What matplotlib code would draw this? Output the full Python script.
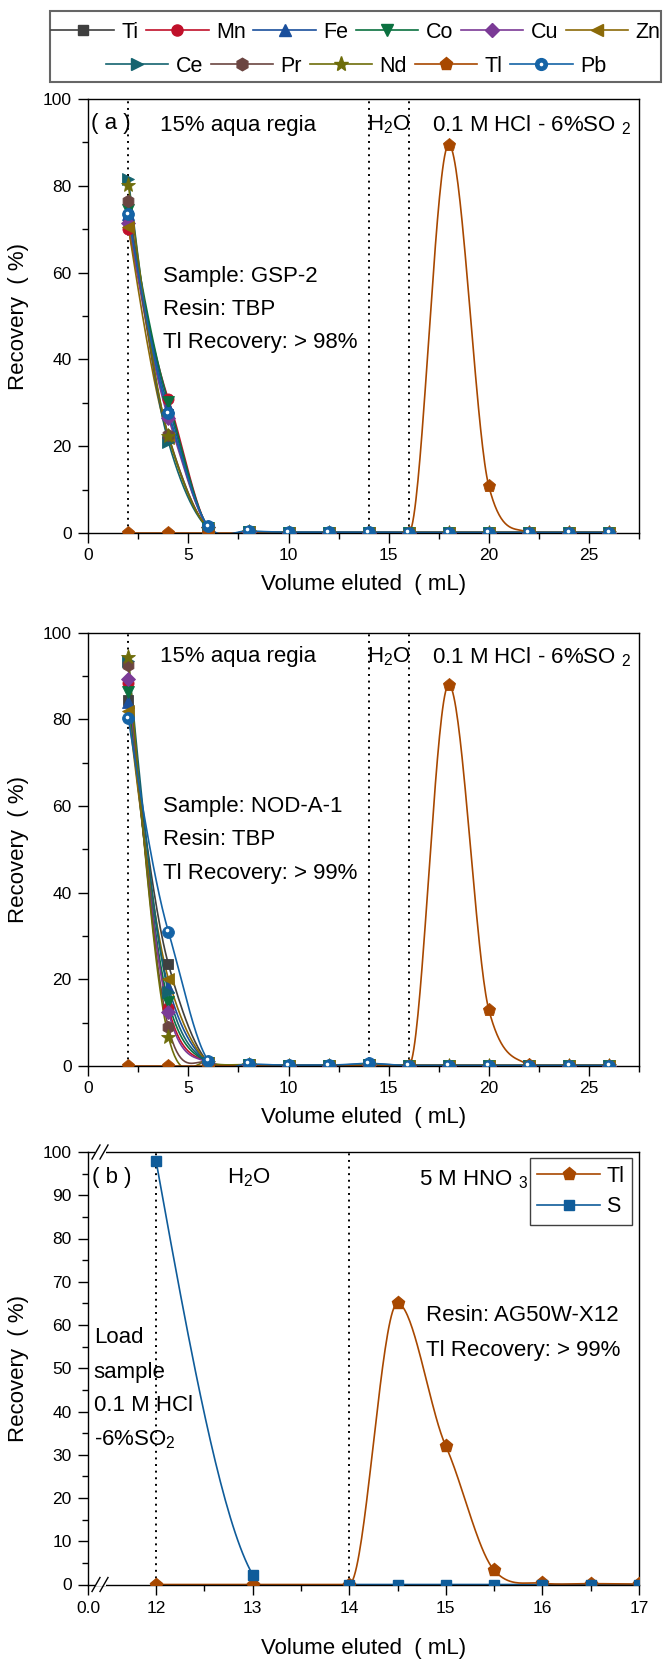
import numpy as np
import matplotlib
matplotlib.use("Agg")
import matplotlib.pyplot as plt
from matplotlib.lines import Line2D
from matplotlib.patches import Rectangle
from matplotlib.ticker import MultipleLocator, FixedLocator
from matplotlib.transforms import offset_copy

plt.rcParams['font.family'] = ['Liberation Sans', 'DejaVu Sans']
plt.rcParams['mathtext.fontset'] = 'custom'
plt.rcParams['mathtext.rm'] = 'Liberation Sans'
plt.rcParams['mathtext.it'] = 'Liberation Sans:italic'

# ---------------- data ----------------
elements = ['Ti', 'Mn', 'Fe', 'Co', 'Cu', 'Zn', 'Ce', 'Pr', 'Nd', 'Tl', 'Pb']
x_tbp = [2, 4, 6, 8, 10, 12, 14, 16, 18, 20, 22, 24, 26]

gsp2 = {
    'Ti': [73.0, 27.5, 1.3, 0.3, 0.1, 0.1, 0.1, 0.1, 0.1, 0.1, 0.1, 0.1, 0.1],
    'Mn': [70.0, 30.8, 1.2, 0.3, 0.1, 0.1, 0.1, 0.1, 0.1, 0.1, 0.1, 0.1, 0.1],
    'Fe': [73.5, 29.0, 1.3, 0.3, 0.1, 0.1, 0.1, 0.1, 0.1, 0.1, 0.1, 0.1, 0.1],
    'Co': [74.5, 30.2, 1.2, 0.3, 0.1, 0.1, 0.1, 0.1, 0.1, 0.1, 0.1, 0.1, 0.1],
    'Cu': [71.5, 26.5, 1.4, 0.3, 0.1, 0.1, 0.1, 0.1, 0.1, 0.1, 0.1, 0.1, 0.1],
    'Zn': [70.5, 22.0, 1.0, 0.3, 0.1, 0.1, 0.1, 0.1, 0.1, 0.1, 0.1, 0.1, 0.1],
    'Ce': [81.5, 21.0, 1.0, 0.3, 0.1, 0.1, 0.1, 0.1, 0.1, 0.1, 0.1, 0.1, 0.1],
    'Pr': [76.5, 22.5, 1.0, 0.3, 0.1, 0.1, 0.1, 0.1, 0.1, 0.1, 0.1, 0.1, 0.1],
    'Nd': [80.2, 22.3, 1.0, 0.3, 0.1, 0.1, 0.1, 0.1, 0.1, 0.1, 0.1, 0.1, 0.1],
    'Tl': [0.0, 0.0, 0.0, 0.0, 0.0, 0.0, 0.0, 0.0, 89.5, 10.8, 0.1, 0.0, 0.0],
    'Pb': [73.5, 27.6, 1.5, 0.5, 0.2, 0.2, 0.2, 0.1, 0.1, 0.1, 0.1, 0.1, 0.1],
}

noda1 = {
    'Ti': [84.5, 23.5, 0.8, 0.3, 0.1, 0.1, 0.5, 0.1, 0.1, 0.1, 0.1, 0.1, 0.1],
    'Mn': [88.5, 13.4, 0.8, 0.3, 0.1, 0.1, 0.2, 0.1, 0.1, 0.1, 0.1, 0.1, 0.1],
    'Fe': [84.0, 18.3, 0.8, 0.3, 0.1, 0.1, 0.3, 0.1, 0.1, 0.1, 0.1, 0.1, 0.1],
    'Co': [86.2, 14.8, 0.8, 0.3, 0.1, 0.1, 0.2, 0.1, 0.1, 0.1, 0.1, 0.1, 0.1],
    'Cu': [89.3, 12.5, 0.8, 0.3, 0.1, 0.1, 0.2, 0.1, 0.1, 0.1, 0.1, 0.1, 0.1],
    'Zn': [82.0, 20.1, 0.8, 0.3, 0.1, 0.1, 0.3, 0.1, 0.1, 0.1, 0.1, 0.1, 0.1],
    'Ce': [93.5, 17.0, 0.8, 0.3, 0.1, 0.1, 0.2, 0.1, 0.1, 0.1, 0.1, 0.1, 0.1],
    'Pr': [92.6, 8.9, 0.8, 0.3, 0.1, 0.1, 0.2, 0.1, 0.1, 0.1, 0.1, 0.1, 0.1],
    'Nd': [94.5, 6.8, 0.8, 0.3, 0.1, 0.1, 0.2, 0.1, 0.1, 0.1, 0.1, 0.1, 0.1],
    'Tl': [0.0, 0.0, 0.0, 0.0, 0.0, 0.0, 0.0, 0.0, 88.0, 13.0, 0.3, 0.0, 0.0],
    'Pb': [80.2, 31.0, 1.2, 0.5, 0.2, 0.2, 0.6, 0.1, 0.1, 0.1, 0.1, 0.1, 0.1],
}

x_ag = [12, 13, 14, 14.5, 15, 15.5, 16, 16.5, 17]
tl_ag = [0.0, 0.0, 0.0, 65.0, 32.0, 3.3, 0.3, 0.2, 0.1]
s_ag = [98.0, 2.3, 0.0, 0.0, 0.0, 0.0, 0.0, 0.0, 0.0]

x_ticks_b = [12, 13, 14, 15, 16, 17]
x_break_label = '0.0'

# ---------------- styles ----------------
style = {
    'Ti': dict(color='#3f3f3f', marker='s', ms=7.5),
    'Mn': dict(color='#c0102a', marker='o', ms=8),
    'Fe': dict(color='#1a4f9c', marker='^', ms=8.5),
    'Co': dict(color='#0b7140', marker='v', ms=8.5),
    'Cu': dict(color='#7b3a96', marker='D', ms=7),
    'Zn': dict(color='#8b6a08', marker='<', ms=8.5),
    'Ce': dict(color='#14636f', marker='>', ms=8.5),
    'Pr': dict(color='#6b4541', marker='h', ms=9),
    'Nd': dict(color='#6e6d0a', marker='*', ms=11),
    'Tl': dict(color='#a84800', marker='p', ms=9.5),
    'Pb': dict(color='#1463a6', marker='o', ms=8.5),
}
S_COLOR = '#0f5c9a'


def smooth_curve(x, y, tension=0.8, n_per=40):
    """Local cubic Hermite curve through the points (cardinal-type tangents)."""
    x = np.asarray(x, float)
    y = np.asarray(y, float)
    N = len(x)
    d = np.diff(y) / np.diff(x)
    m = np.zeros(N)
    for i in range(1, N - 1):
        if d[i - 1] * d[i] <= 0:
            m[i] = 0.0
        else:
            m[i] = tension * (y[i + 1] - y[i - 1]) / (x[i + 1] - x[i - 1])
    m[0] = (3 * d[0] - m[1]) / 2
    m[-1] = (3 * d[-1] - m[-2]) / 2
    xs_all, ys_all = [], []
    for k in range(N - 1):
        h = x[k + 1] - x[k]
        s = np.linspace(0, 1, n_per)
        h00 = 2 * s ** 3 - 3 * s ** 2 + 1
        h10 = s ** 3 - 2 * s ** 2 + s
        h01 = -2 * s ** 3 + 3 * s ** 2
        h11 = s ** 3 - s ** 2
        xs_all.append(x[k] + s * h)
        ys_all.append(h00 * y[k] + h10 * h * m[k] + h01 * y[k + 1] + h11 * h * m[k + 1])
    return np.concatenate(xs_all), np.concatenate(ys_all)


W, H = 664, 1662
fig = plt.figure(figsize=(W / 100, H / 100), dpi=100)


def px_axes(l, t, r, b):
    return fig.add_axes([l / W, 1 - b / H, (r - l) / W, (b - t) / H])


TXT = 16
TICK = 12.5
DOT = (0, (1.0, 2.4))

axA = px_axes(88.3, 99, 639, 533)
axB = px_axes(88.3, 632.7, 639, 1066)
axC = px_axes(88.3, 1152, 639, 1584.5)


def style_axes(ax):
    for sp in ax.spines.values():
        sp.set_linewidth(1.0)
        sp.set_color('black')
    ax.tick_params(axis='both', which='both', direction='out', top=False, right=False,
                   labelsize=TICK, width=1.0)
    ax.tick_params(axis='both', which='major', length=7)
    ax.tick_params(axis='both', which='minor', length=4)
    ax.tick_params(axis='y', pad=5)
    ax.tick_params(axis='x', pad=4)
    ax.set_ylabel('Recovery  ( %)', fontsize=TXT, labelpad=10)


def pb_highlight(ax, x, y):
    tr = offset_copy(ax.transData, fig=fig, x=-1.4, y=1.4, units='dots')
    ax.plot(x, y, ls='none', marker='o', ms=1.6, color='white', mec='white',
            zorder=4, transform=tr)


def draw_tbp(ax, data):
    for el in elements:
        st = style[el]
        xs, ys = smooth_curve(x_tbp, data[el])
        ax.plot(xs, ys, color=st['color'], lw=1.2, zorder=2)
    for el in elements:
        st = style[el]
        ax.plot(x_tbp, data[el], ls='none', marker=st['marker'], ms=st['ms'],
                color=st['color'], mec=st['color'], mew=0.6, zorder=3)
        if el == 'Pb':
            pb_highlight(ax, x_tbp, data[el])
    for xv in (2, 14, 16):
        ax.axvline(xv, color='black', lw=1.4, ls=DOT, zorder=1)
    ax.set_xlim(0, 27.5)
    ax.set_ylim(0, 100)
    ax.xaxis.set_major_locator(MultipleLocator(5))
    ax.xaxis.set_minor_locator(MultipleLocator(2.5))
    ax.yaxis.set_major_locator(MultipleLocator(20))
    ax.yaxis.set_minor_locator(MultipleLocator(10))
    style_axes(ax)
    ax.set_xlabel('Volume eluted  ( mL)', fontsize=TXT, labelpad=8)


draw_tbp(axA, gsp2)
draw_tbp(axB, noda1)

# panel texts
axA.text(0.13, 94.3, '( a )', fontsize=TXT, va='center', ha='left')
for ax, yrow in ((axA, 94.0), (axB, 94.4)):
    ax.text(3.58, yrow, '15% aqua regia', fontsize=TXT, va='center', ha='left')
    ax.text(15.0, yrow, 'H$_\\mathregular{2}$O', fontsize=TXT, va='center', ha='center')
    ax.text(17.16, yrow, '0.1 M HCl - 6%SO $_\\mathregular{2}$', fontsize=TXT, va='center', ha='left')

for ax, rows, sample, rec in ((axA, (59.0, 51.4, 43.8), 'GSP-2', '98%'),
                              (axB, (59.8, 52.2, 44.5), 'NOD-A-1', '99%')):
    ax.text(3.73, rows[0], 'Sample: ' + sample, fontsize=TXT, va='center', ha='left')
    ax.text(3.73, rows[1], 'Resin: TBP', fontsize=TXT, va='center', ha='left')
    ax.text(3.73, rows[2], 'Tl Recovery: > ' + rec, fontsize=TXT, va='center', ha='left')

# ---------------- panel b ----------------
xl = 12 - (156 - 88.3) / 96.6
xs, ys = smooth_curve(x_ag, s_ag)
axC.plot(xs, ys, color=S_COLOR, lw=1.2, zorder=2)
xs, ys = smooth_curve(x_ag, tl_ag)
axC.plot(xs, ys, color=style['Tl']['color'], lw=1.2, zorder=2)
axC.plot(x_ag, tl_ag, ls='none', marker='p', ms=9.5, color=style['Tl']['color'],
         mec=style['Tl']['color'], zorder=3)
axC.plot(x_ag, s_ag, ls='none', marker='s', ms=7.5, color=S_COLOR, mec=S_COLOR, zorder=4)
for xv in (12, 14):
    axC.axvline(xv, color='black', lw=1.4, ls=DOT, zorder=1)
axC.set_xlim(xl, 17.0)
axC.set_ylim(0, 100)
axC.xaxis.set_major_locator(FixedLocator([xl] + x_ticks_b))
axC.set_xticklabels([x_break_label] + [str(v) for v in x_ticks_b])
axC.xaxis.set_minor_locator(FixedLocator([12.5, 13.5, 14.5, 15.5, 16.5]))
axC.yaxis.set_major_locator(MultipleLocator(10))
axC.yaxis.set_minor_locator(MultipleLocator(5))
style_axes(axC)
axC.tick_params(axis='x', pad=5)
axC.set_xlabel('Volume eluted  ( mL)', fontsize=TXT, labelpad=16)

leg_handles = [Line2D([], [], color=style['Tl']['color'], marker='p', ms=9.5, lw=1.2),
               Line2D([], [], color=S_COLOR, marker='s', ms=7.5, lw=1.2)]
lg = axC.legend(leg_handles, ['Tl', 'S'], loc='upper right', bbox_to_anchor=(0.987, 0.986),
                borderaxespad=0, fontsize=15.5, handlelength=2.9, handletextpad=0.3,
                labelspacing=0.45, borderpad=0.35, fancybox=False, edgecolor='#404040',
                framealpha=1)
lg.get_frame().set_linewidth(1.0)

axC.text(11.34, 94.0, '( b )', fontsize=TXT, va='center', ha='left')
axC.text(12.96, 94.0, 'H$_\\mathregular{2}$O', fontsize=TXT, va='center', ha='center')
axC.text(14.72, 93.5, '5 M HNO $_\\mathregular{3}$', fontsize=TXT, va='center', ha='left')
axC.text(14.8, 62.3, 'Resin: AG50W-X12', fontsize=TXT, va='center', ha='left')
axC.text(14.8, 54.2, 'Tl Recovery: > 99%', fontsize=TXT, va='center', ha='left')
for yv, s in ((57.0, 'Load'), (49.1, 'sample'), (41.5, '0.1 M HCl'),
              (33.4, '-6%SO$_\\mathregular{2}$')):
    axC.text(11.356, yv, s, fontsize=TXT, va='center', ha='left')


# axis break marks
def fig_line(p1, p2):
    fig.add_artist(Line2D([p1[0] / W, p2[0] / W], [1 - p1[1] / H, 1 - p2[1] / H],
                          color='black', lw=1.0))


for yb in (1152, 1584.5):
    fig.add_artist(Rectangle((95 / W, 1 - (yb + 1.5) / H), 11 / W, 3 / H,
                             facecolor='white', edgecolor='none'))
    fig_line((92, yb + 7), (100, yb - 7))
    fig_line((100, yb + 7), (108, yb - 7))

# ---------------- top legend ----------------
handles = {}
for el in elements:
    st = style[el]
    h = Line2D([], [], color=st['color'], marker=st['marker'], ms=st['ms'], lw=1.2,
               mec=st['color'])
    if el == 'Pb':
        h = (h, Line2D([], [], ls='none', marker='o', ms=1.6, color='white', mec='white'))
    handles[el] = h

row1 = elements[:6]
row2 = elements[6:]
common = dict(frameon=False, fontsize=15.5, handlelength=2.9, handletextpad=0.35,
              columnspacing=0.35, borderpad=0, loc='center')
fig.legend([handles[e] for e in row1], row1, ncol=6, bbox_to_anchor=(356 / W, 1 - 32 / H), **common)
fig.legend([handles[e] for e in row2], row2, ncol=5, bbox_to_anchor=(356 / W, 1 - 66 / H), **common)
fig.add_artist(Rectangle((50 / W, 1 - 82 / H), 611 / W, 71 / H, fill=False,
                         edgecolor='#666666', lw=1.5))

fig.savefig('out.png', dpi=100)
